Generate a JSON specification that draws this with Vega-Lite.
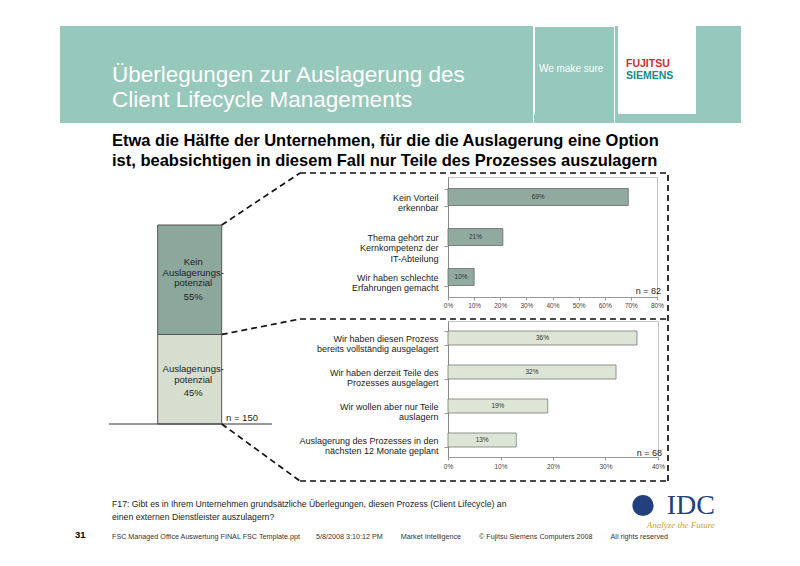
{
  "$schema": "https://vega.github.io/schema/vega-lite/v6.json",
  "background": "white",
  "padding": {"left": 60, "top": 25, "right": 0, "bottom": 0},
  "spacing": 0,
  "config": {
    "view": {"stroke": null},
    "font": "Liberation Sans",
    "title": {"font": "Liberation Sans", "subtitleFont": "Liberation Sans", "baseline": "alphabetic", "orient": "bottom", "frame": "group", "anchor": "start", "fontWeight": "normal"},
    "axis": {"labelFont": "Liberation Sans"},
    "text": {"font": "Liberation Sans"}
  },
  "datasets": {
    "gesamt": [
      {"Gruppe": "Alle Unternehmen", "Kategorie": "Auslagerungspotenzial", "Beschriftung": "Auslagerungs-\npotenzial", "Anteil": 0.45},
      {"Gruppe": "Alle Unternehmen", "Kategorie": "Kein Auslagerungspotenzial", "Beschriftung": "Kein\nAuslagerungs-\npotenzial", "Anteil": 0.55}
    ],
    "gruende": [
      {"Grund": "Kein Vorteil\nerkennbar", "Anteil": 0.69},
      {"Grund": "Thema gehört zur\nKernkompetenz der\nIT-Abteilung", "Anteil": 0.21},
      {"Grund": "Wir haben schlechte\nErfahrungen gemacht", "Anteil": 0.10}
    ],
    "status": [
      {"Status": "Wir haben diesen Prozess\nbereits vollständig ausgelagert", "Anteil": 0.36},
      {"Status": "Wir haben derzeit Teile des\nProzesses ausgelagert", "Anteil": 0.32},
      {"Status": "Wir wollen aber nur Teile\nauslagern", "Anteil": 0.19},
      {"Status": "Auslagerung des Prozesses in den\nnächsten 12 Monate geplant", "Anteil": 0.13}
    ]
  },
  "vconcat": [
    {
      "spacing": 0,
      "hconcat": [
        {
          "width": 473, "height": 97,
          "view": {"fill": "#97c8bc", "stroke": null},
          "data": {"values": []},
          "mark": {"type": "point"},
          "title": {"text": ["Überlegungen zur Auslagerung des", "Client Lifecycle Managements"], "offset": -59, "dx": 52, "color": "white", "fontSize": 22.5, "lineHeight": 25}
        },
        {
          "bounds": "flush",
          "spacing": 0,
          "vconcat": [
            {
              "width": 80, "height": 88,
              "view": {"fill": "#97c8bc", "stroke": "white", "strokeWidth": 1},
              "data": {"values": []},
              "mark": {"type": "point"},
              "title": {"text": "We make sure", "offset": -50, "dx": 5, "color": "white", "fontSize": 10}
            },
            {
              "width": 80, "height": 9,
              "view": {"fill": "#97c8bc", "stroke": null},
              "data": {"values": []},
              "mark": {"type": "point"}
            }
          ]
        },
        {
          "width": 3, "height": 97,
          "view": {"fill": "#97c8bc", "stroke": null},
          "data": {"values": []},
          "mark": {"type": "point"}
        },
        {
          "bounds": "flush",
          "spacing": 0,
          "vconcat": [
            {
              "width": 78, "height": 88,
              "view": {"fill": "white", "stroke": null},
              "data": {"values": []},
              "mark": {"type": "point"},
              "title": {"text": "FUJITSU", "subtitle": "SIEMENS", "offset": -55, "dx": 8, "color": "#d52b30", "fontSize": 10.5, "fontWeight": "bold", "subtitleColor": "#178a8c", "subtitleFontSize": 10.5, "subtitleFontWeight": "bold", "subtitlePadding": 1}
            },
            {
              "width": 78, "height": 9,
              "view": {"fill": "#97c8bc", "stroke": null},
              "data": {"values": []},
              "mark": {"type": "point"}
            }
          ]
        },
        {
          "width": 45, "height": 97,
          "view": {"fill": "#97c8bc", "stroke": null},
          "data": {"values": []},
          "mark": {"type": "point"}
        }
      ]
    },
    {
      "width": 680, "height": 49,
      "data": {"values": []},
      "mark": {"type": "point"},
      "title": {"text": ["Etwa die Hälfte der Unternehmen, für die die Auslagerung eine Option", "ist, beabsichtigen in diesem Fall nur Teile des Prozesses auszulagern"], "offset": -39, "dx": 52, "color": "#000000", "fontSize": 16.5, "fontWeight": "bold", "lineHeight": 19.5}
    },
    {
      "bounds": "flush",
      "spacing": 148,
      "hconcat": [
        {
          "width": 240, "height": 304,
          "resolve": {"scale": {"x": "independent"}},
          "layer": [
            {
              "data": {"name": "gesamt"},
              "mark": {"type": "bar", "stroke": "#555555", "strokeWidth": 1},
              "encoding": {
                "x": {"field": "Gruppe", "type": "nominal", "axis": null, "scale": {"paddingInner": 0.2727, "paddingOuter": 1, "align": 0.555}},
                "y": {"field": "Anteil", "type": "quantitative", "stack": "zero", "axis": null, "scale": {"domain": [-0.2864, 1.2412], "nice": false, "zero": false}},
                "color": {"field": "Kategorie", "type": "nominal", "legend": null, "scale": {"domain": ["Kein Auslagerungspotenzial", "Auslagerungspotenzial"], "range": ["#8ca89d", "#d6dfcf"]}},
                "order": {"field": "Kategorie", "type": "nominal", "sort": "ascending"}
              }
            },
            {
              "data": {"name": "gesamt"},
              "transform": [
                {"stack": "Anteil", "groupby": ["Gruppe"], "sort": [{"field": "Kategorie", "order": "ascending"}], "as": ["von", "bis"]},
                {"filter": "datum.Kategorie === 'Kein Auslagerungspotenzial'"}
              ],
              "mark": {"type": "text", "fontSize": 9.5, "color": "#222222", "lineBreak": "\n", "lineHeight": 10.5, "baseline": "middle", "dy": 37},
              "encoding": {
                "x": {"field": "Gruppe", "type": "nominal", "axis": null, "scale": {"paddingInner": 0.2727, "paddingOuter": 1, "align": 0.555}},
                "y": {"field": "bis", "type": "quantitative", "axis": null},
                "text": {"field": "Beschriftung"}
              }
            },
            {
              "data": {"name": "gesamt"},
              "transform": [
                {"stack": "Anteil", "groupby": ["Gruppe"], "sort": [{"field": "Kategorie", "order": "ascending"}], "as": ["von", "bis"]},
                {"filter": "datum.Kategorie === 'Kein Auslagerungspotenzial'"}
              ],
              "mark": {"type": "text", "fontSize": 9.5, "color": "#222222", "baseline": "middle", "dy": 72},
              "encoding": {
                "x": {"field": "Gruppe", "type": "nominal", "axis": null, "scale": {"paddingInner": 0.2727, "paddingOuter": 1, "align": 0.555}},
                "y": {"field": "bis", "type": "quantitative", "axis": null},
                "text": {"field": "Anteil", "type": "quantitative", "format": ".0%"}
              }
            },
            {
              "data": {"name": "gesamt"},
              "transform": [
                {"stack": "Anteil", "groupby": ["Gruppe"], "sort": [{"field": "Kategorie", "order": "ascending"}], "as": ["von", "bis"]},
                {"filter": "datum.Kategorie === 'Auslagerungspotenzial'"}
              ],
              "mark": {"type": "text", "fontSize": 9.5, "color": "#222222", "lineBreak": "\n", "lineHeight": 10.5, "baseline": "middle", "dy": 35},
              "encoding": {
                "x": {"field": "Gruppe", "type": "nominal", "axis": null, "scale": {"paddingInner": 0.2727, "paddingOuter": 1, "align": 0.555}},
                "y": {"field": "bis", "type": "quantitative", "axis": null},
                "text": {"field": "Beschriftung"}
              }
            },
            {
              "data": {"name": "gesamt"},
              "transform": [
                {"stack": "Anteil", "groupby": ["Gruppe"], "sort": [{"field": "Kategorie", "order": "ascending"}], "as": ["von", "bis"]},
                {"filter": "datum.Kategorie === 'Auslagerungspotenzial'"}
              ],
              "mark": {"type": "text", "fontSize": 9.5, "color": "#222222", "baseline": "middle", "dy": 59},
              "encoding": {
                "x": {"field": "Gruppe", "type": "nominal", "axis": null, "scale": {"paddingInner": 0.2727, "paddingOuter": 1, "align": 0.555}},
                "y": {"field": "bis", "type": "quantitative", "axis": null},
                "text": {"field": "Anteil", "type": "quantitative", "format": ".0%"}
              }
            },
            {
              "data": {"values": [{}]},
              "mark": {"type": "rule", "color": "#333333", "strokeWidth": 1},
              "encoding": {
                "x": {"datum": 0.2042, "type": "quantitative", "axis": null, "scale": {"domain": [0, 1], "nice": false, "zero": false}},
                "x2": {"datum": 0.8833},
                "y": {"datum": 0, "type": "quantitative", "axis": null}
              }
            },
            {
              "data": {"values": [{}]},
              "mark": {"type": "rule", "color": "#111111", "strokeWidth": 1.7, "strokeDash": [6, 4]},
              "encoding": {
                "x": {"datum": 0.6738, "type": "quantitative", "axis": null, "scale": {"domain": [0, 1], "nice": false, "zero": false}},
                "x2": {"datum": 1},
                "y": {"datum": 1, "type": "quantitative", "axis": null},
                "y2": {"datum": 1.2613}
              }
            },
            {
              "data": {"values": [{}]},
              "mark": {"type": "rule", "color": "#111111", "strokeWidth": 1.7, "strokeDash": [6, 4]},
              "encoding": {
                "x": {"datum": 1, "type": "quantitative", "axis": null, "scale": {"domain": [0, 1], "nice": false, "zero": false}},
                "x2": {"datum": 2.5333},
                "y": {"datum": 1.2613, "type": "quantitative", "axis": null}
              }
            },
            {
              "data": {"values": [{}]},
              "mark": {"type": "rule", "color": "#111111", "strokeWidth": 1.7, "strokeDash": [6, 4]},
              "encoding": {
                "x": {"datum": 0.6738, "type": "quantitative", "axis": null, "scale": {"domain": [0, 1], "nice": false, "zero": false}},
                "x2": {"datum": 1},
                "y": {"datum": 0.45, "type": "quantitative", "axis": null},
                "y2": {"datum": 0.5276}
              }
            },
            {
              "data": {"values": [{}]},
              "mark": {"type": "rule", "color": "#111111", "strokeWidth": 1.7, "strokeDash": [6, 4]},
              "encoding": {
                "x": {"datum": 1, "type": "quantitative", "axis": null, "scale": {"domain": [0, 1], "nice": false, "zero": false}},
                "x2": {"datum": 2.5333},
                "y": {"datum": 0.5276, "type": "quantitative", "axis": null}
              }
            },
            {
              "data": {"values": [{}]},
              "mark": {"type": "rule", "color": "#111111", "strokeWidth": 1.7, "strokeDash": [6, 4]},
              "encoding": {
                "x": {"datum": 0.6738, "type": "quantitative", "axis": null, "scale": {"domain": [0, 1], "nice": false, "zero": false}},
                "x2": {"datum": 1},
                "y": {"datum": 0, "type": "quantitative", "axis": null},
                "y2": {"datum": -0.2864}
              }
            },
            {
              "data": {"values": [{}]},
              "mark": {"type": "rule", "color": "#111111", "strokeWidth": 1.7, "strokeDash": [6, 4]},
              "encoding": {
                "x": {"datum": 1, "type": "quantitative", "axis": null, "scale": {"domain": [0, 1], "nice": false, "zero": false}},
                "x2": {"datum": 2.5333},
                "y": {"datum": -0.2864, "type": "quantitative", "axis": null}
              }
            },
            {
              "data": {"values": [{}]},
              "mark": {"type": "rule", "color": "#111111", "strokeWidth": 1.7, "strokeDash": [6, 4]},
              "encoding": {
                "x": {"datum": 2.5333, "type": "quantitative", "axis": null, "scale": {"domain": [0, 1], "nice": false, "zero": false}},
                "y": {"datum": -0.2864, "type": "quantitative", "axis": null},
                "y2": {"datum": 1.2613}
              }
            },
            {
              "data": {"values": [{}]},
              "mark": {"type": "text", "align": "left", "baseline": "alphabetic", "fontSize": 9.5, "color": "#222222", "text": "n = 150"},
              "encoding": {
                "x": {"datum": 0.6917, "type": "quantitative", "axis": null, "scale": {"domain": [0, 1], "nice": false, "zero": false}},
                "y": {"datum": 0.0151, "type": "quantitative", "axis": null}
              }
            }
          ]
        },
        {
          "bounds": "flush",
          "spacing": 24,
          "vconcat": [
            {
              "width": 209, "height": 120,
              "view": {"stroke": "#c4c4c4", "strokeWidth": 1},
              "data": {"name": "gruende"},
              "title": {"text": "n = 82", "anchor": "end", "dx": 4, "offset": -22, "fontSize": 9, "color": "#222222"},
              "resolve": {"scale": {"x": "independent"}},
              "encoding": {
                "y": {"field": "Grund", "type": "nominal", "sort": null, "scale": {"paddingInner": 0.575, "paddingOuter": 0.2875},
                  "axis": {"title": null, "labelExpr": "split(datum.label, '\\n')", "labelFontSize": 9, "labelColor": "#222222", "labelLineHeight": 10.5, "labelPadding": 6, "labelLimit": 250, "tickBand": "extent", "tickSize": 4, "tickColor": "#999999", "domainColor": "#888888"}}
              },
              "layer": [
                {
                  "mark": {"type": "bar", "fill": "#91aaa0", "stroke": "#6a6a6a", "strokeWidth": 0.8},
                  "encoding": {
                    "x": {"field": "Anteil", "type": "quantitative", "scale": {"domain": [0, 0.8], "nice": false},
                      "axis": {"title": null, "values": [0, 0.1, 0.2, 0.3, 0.4, 0.5, 0.6, 0.7, 0.8], "format": ".0%", "labelFontSize": 6.5, "labelColor": "#444444", "tickSize": 3, "tickColor": "#999999", "domainColor": "#999999", "labelPadding": 2, "grid": false, "labelFlush": false, "labelOverlap": false}}
                  }
                },
                {
                  "mark": {"type": "text", "fontSize": 6.5, "color": "#333333"},
                  "encoding": {
                    "x": {"field": "Anteil", "type": "quantitative", "scale": {"domain": [0, 1.6], "nice": false}, "axis": null},
                    "text": {"field": "Anteil", "type": "quantitative", "format": ".0%"}
                  }
                }
              ]
            },
            {
              "width": 210, "height": 136,
              "view": {"stroke": "#c4c4c4", "strokeWidth": 1},
              "data": {"name": "status"},
              "title": {"text": "n = 68", "anchor": "end", "dx": 4, "offset": -21, "fontSize": 9, "color": "#222222"},
              "resolve": {"scale": {"x": "independent"}},
              "encoding": {
                "y": {"field": "Status", "type": "nominal", "sort": null, "scale": {"paddingInner": 0.588, "paddingOuter": 0.294},
                  "axis": {"title": null, "labelExpr": "split(datum.label, '\\n')", "labelFontSize": 9, "labelColor": "#222222", "labelLineHeight": 10.5, "labelPadding": 6, "labelLimit": 250, "tickBand": "extent", "tickSize": 4, "tickColor": "#999999", "domainColor": "#888888"}}
              },
              "layer": [
                {
                  "mark": {"type": "bar", "fill": "#dde5d6", "stroke": "#7a7a7a", "strokeWidth": 0.8},
                  "encoding": {
                    "x": {"field": "Anteil", "type": "quantitative", "scale": {"domain": [0, 0.4], "nice": false},
                      "axis": {"title": null, "values": [0, 0.1, 0.2, 0.3, 0.4], "format": ".0%", "labelFontSize": 6.5, "labelColor": "#444444", "tickSize": 3, "tickColor": "#999999", "domainColor": "#999999", "labelPadding": 3, "grid": false, "labelFlush": false, "labelOverlap": false}}
                  }
                },
                {
                  "mark": {"type": "text", "fontSize": 6.5, "color": "#333333"},
                  "encoding": {
                    "x": {"field": "Anteil", "type": "quantitative", "scale": {"domain": [0, 0.8], "nice": false}, "axis": null},
                    "text": {"field": "Anteil", "type": "quantitative", "format": ".0%"}
                  }
                }
              ]
            }
          ]
        }
      ]
    },
    {
      "spacing": 0,
      "vconcat": [
        {
          "bounds": "flush",
          "spacing": 0,
          "hconcat": [
            {
              "width": 568, "height": 47,
              "data": {"values": []},
              "mark": {"type": "point"},
              "title": {"text": ["F17: Gibt es in Ihrem Unternehmen grundsätzliche Überlegungen, diesen Prozess (Client Lifecycle) an", "einen externen Dienstleister auszulagern?"], "offset": -29, "dx": 52, "color": "#222222", "fontSize": 8.7, "lineHeight": 12.5}
            },
            {
              "width": 30, "height": 47,
              "data": {"values": [{}]},
              "mark": {"type": "point", "filled": true, "shape": "circle", "size": 450, "color": "#22407f", "opacity": 1}
            },
            {
              "width": 90, "height": 47,
              "data": {"values": []},
              "mark": {"type": "point"},
              "title": {"text": "IDC", "subtitle": "Analyze the Future", "anchor": "end", "dx": -33, "offset": -37, "font": "Liberation Serif", "fontSize": 28, "color": "#22407f", "subtitleFont": "Liberation Serif", "subtitleFontStyle": "italic", "subtitleFontSize": 9, "subtitleColor": "#c9a227", "subtitlePadding": 1}
            }
          ]
        },
        {
          "bounds": "flush",
          "spacing": 0,
          "hconcat": [
            {
              "width": 52, "height": 22,
              "data": {"values": []},
              "mark": {"type": "point"},
              "title": {"text": "31", "offset": -24, "dx": 15, "color": "#000000", "fontSize": 9.5, "fontWeight": "bold"}
            },
            {
              "width": 628, "height": 22,
              "data": {"values": []},
              "mark": {"type": "point"},
              "title": {"text": "FSC Managed Office Auswertung FINAL FSC Template.ppt\u00a0\u00a0\u00a0\u00a0\u00a0\u00a0\u00a0\u00a05/8/2008 3:10:12 PM\u00a0\u00a0\u00a0\u00a0\u00a0\u00a0\u00a0\u00a0\u00a0Market Intelligence\u00a0\u00a0\u00a0\u00a0\u00a0\u00a0\u00a0\u00a0\u00a0© Fujitsu Siemens Computers 2008\u00a0\u00a0\u00a0\u00a0\u00a0\u00a0\u00a0\u00a0\u00a0All rights reserved", "offset": -21, "dx": 0, "color": "#333333", "fontSize": 7.2}
            }
          ]
        }
      ]
    }
  ]
}
